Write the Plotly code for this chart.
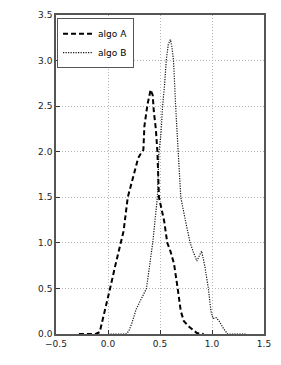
import plotly.graph_objects as go

# Algo A (dashed) density curve
a_x = [-0.28, -0.20, -0.12, -0.08, -0.03, 0.02, 0.07, 0.125, 0.15, 0.19, 0.23, 0.29, 0.31, 0.34,
       0.35, 0.38, 0.41, 0.43, 0.44, 0.46, 0.475, 0.49, 0.54, 0.57, 0.60, 0.635, 0.67, 0.70,
       0.73, 0.78, 0.855, 0.92]
a_y = [0.0, 0.0, 0.0, 0.02, 0.25, 0.5, 0.75, 1.0, 1.13, 1.5, 1.68, 1.93, 1.97, 2.02,
       2.28, 2.52, 2.68, 2.62, 2.45, 2.25, 2.0, 1.5, 1.24, 1.0, 0.91, 0.77, 0.5, 0.25,
       0.14, 0.08, 0.01, 0.0]

# Algo B (dotted) density curve
b_x = [0.00, 0.10, 0.17, 0.20, 0.23, 0.27, 0.32, 0.37, 0.40, 0.43, 0.475, 0.49, 0.51, 0.525,
       0.545, 0.56, 0.58, 0.60, 0.615, 0.63, 0.65, 0.665, 0.68, 0.70, 0.745, 0.79, 0.82,
       0.855, 0.875, 0.90, 0.93, 0.965, 0.99, 1.01, 1.04, 1.07, 1.11, 1.15, 1.33]
b_y = [0.0, 0.0, 0.0, 0.03, 0.12, 0.27, 0.39, 0.5, 0.75, 1.0, 1.5, 2.0, 2.2, 2.5,
       2.75, 3.0, 3.18, 3.23, 3.15, 3.0, 2.5, 2.2, 2.0, 1.5, 1.24, 1.0, 0.9,
       0.80, 0.85, 0.91, 0.75, 0.5, 0.25, 0.17, 0.18, 0.14, 0.06, 0.0, 0.0]

x_ticks = [-0.5, 0.0, 0.5, 1.0, 1.5]
x_labels = ["\u22120.5", "0.0", "0.5", "1.0", "1.5"]
y_ticks = [0.0, 0.5, 1.0, 1.5, 2.0, 2.5, 3.0, 3.5]
y_labels = ["0.0", "0.5", "1.0", "1.5", "2.0", "2.5", "3.0", "3.5"]

fig = go.Figure()
fig.add_trace(go.Scatter(x=a_x, y=a_y, mode="lines", name="algo A",
                         line=dict(color="black", width=2, dash="5px,3px")))
fig.add_trace(go.Scatter(x=b_x, y=b_y, mode="lines", name="algo B",
                         line=dict(color="#111111", width=1.2, dash="1.2px,1.3px")))

axis_common = dict(showline=True, mirror=True, linecolor="#555555", linewidth=1.5,
                   showgrid=True, gridcolor="#b4b4b4", griddash="1px,2px", gridwidth=1,
                   zeroline=False, ticks="inside", ticklen=4, tickcolor="#333333",
                   tickfont=dict(family="DejaVu Sans", size=9, color="#222222"))

fig.update_xaxes(range=[-0.5, 1.5], tickvals=x_ticks, ticktext=x_labels, **axis_common)
fig.update_yaxes(range=[0, 3.5], tickvals=y_ticks, ticktext=y_labels, **axis_common)

fig.update_layout(
    width=281, height=365,
    margin=dict(l=56, r=12, t=10, b=31),
    paper_bgcolor="white", plot_bgcolor="white",
    showlegend=True,
    legend=dict(x=0.005, y=0.99, xanchor="left", yanchor="top",
                bgcolor="white", bordercolor="#555555", borderwidth=1,
                font=dict(family="DejaVu Sans", size=9, color="black"),
                itemwidth=30, tracegroupgap=0),
)

fig.write_html("out.html", config={"displayModeBar": False},
               post_script="document.body.style.margin='0px';")
